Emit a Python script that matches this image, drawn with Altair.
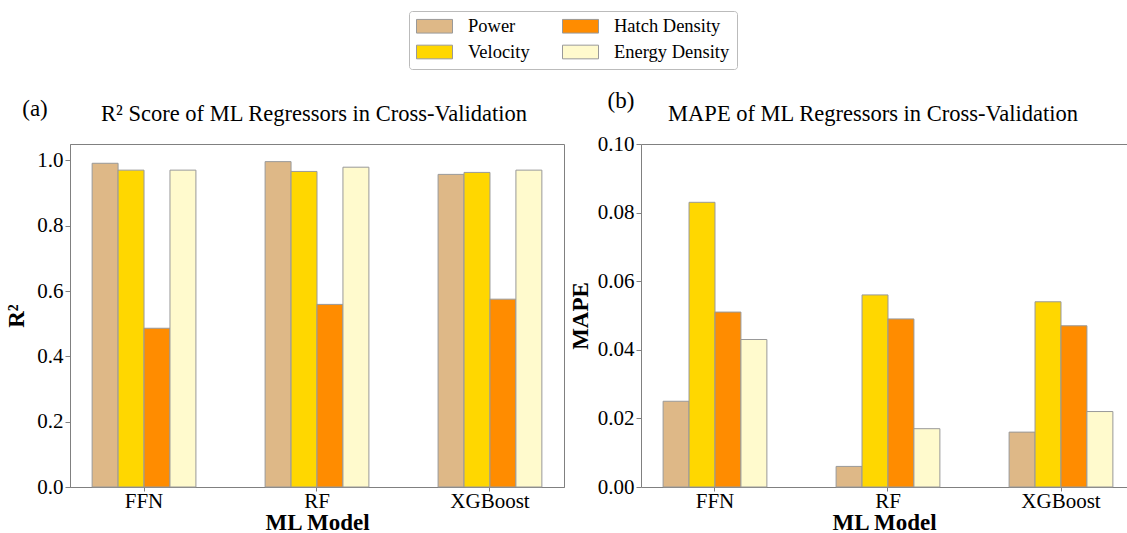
import altair as alt
import pandas as pd

# ML models and input features
models = ["FFN", "RF", "XGBoost"]
features = ["Power", "Velocity", "Hatch Density", "Energy Density"]
feature_colors = ["#DEB887", "#FFD700", "#FF8C00", "#FFFACD"]

# R² score per feature (one value per model)
r2_power = [0.991, 0.996, 0.957]
r2_velocity = [0.970, 0.966, 0.963]
r2_hatch = [0.486, 0.559, 0.575]
r2_energy = [0.970, 0.979, 0.970]

# MAPE per feature (one value per model)
mape_power = [0.025, 0.006, 0.016]
mape_velocity = [0.083, 0.056, 0.054]
mape_hatch = [0.051, 0.049, 0.047]
mape_energy = [0.043, 0.017, 0.022]

r2_ticks = [0.0, 0.2, 0.4, 0.6, 0.8, 1.0]
mape_ticks = [0.00, 0.02, 0.04, 0.06, 0.08, 0.10]


def long_table(series):
    rows = []
    for feat, vals in zip(features, series):
        for m, v in zip(models, vals):
            rows.append({"model": m, "feature": feat, "value": v})
    return pd.DataFrame(rows)


r2_df = long_table([r2_power, r2_velocity, r2_hatch, r2_energy])
mape_df = long_table([mape_power, mape_velocity, mape_hatch, mape_energy])

FONT = "Liberation Serif"
GRAY = "#808080"
W, H = 494, 343
W_RIGHT = 486  # right panel runs to the page edge, its right spine falls outside

color_enc = alt.Color(
    "feature:N",
    scale=alt.Scale(domain=features, range=feature_colors),
    legend=alt.Legend(
        title=None,
        orient="none",
        legendX=339,
        legendY=-133,
        columns=2,
        columnPadding=32,
        rowPadding=7,
        padding=7,
        clipHeight=16,
        symbolType="M-1,-0.38L1,-0.38L1,0.38L-1,0.38Z",
        symbolSize=1296,
        symbolStrokeColor="#999999",
        symbolStrokeWidth=1,
        symbolOpacity=1,
        labelFont=FONT,
        labelFontSize=18.5,
        labelColor="black",
        labelOffset=15,
        fillColor="white",
        strokeColor="#bbbbbb",
        cornerRadius=3,
    ),
)


def text_layer(label, size, x, y):
    return (
        alt.Chart(pd.DataFrame({"t": [label]}))
        .mark_text(font=FONT, fontSize=size, color="black", align="center",
                   baseline="alphabetic")
        .encode(text="t:N", x=alt.value(x), y=alt.value(y))
    )


def panel(df, ticks, fmt, ymax, ytitle, ypad, title, title_x, tag, tag_x, tag_y,
          width, xscale, open_right=False):
    bars = (
        alt.Chart(df)
        .mark_bar(stroke="#999999", strokeWidth=1)
        .encode(
            x=alt.X(
                "model:N",
                sort=models,
                scale=xscale,
                axis=alt.Axis(title="ML Model", labelAngle=0),
            ),
            xOffset=alt.XOffset(
                "feature:N",
                sort=features,
                scale=alt.Scale(paddingInner=0, paddingOuter=0),
            ),
            y=alt.Y(
                "value:Q",
                scale=alt.Scale(domain=[0, ymax], nice=False, zero=True),
                axis=alt.Axis(title=ytitle, values=ticks, format=fmt,
                              titlePadding=ypad),
            ),
            color=color_enc,
        )
    )
    layers = [bars, text_layer(title, 22.5, title_x, -23), text_layer(tag, 23, tag_x, tag_y)]
    if open_right:
        # top spine only (no right spine) for the panel cut by the page edge
        top_spine = (
            alt.Chart(df)
            .mark_point(opacity=0)
            .encode(
                x=alt.X(
                    "model:N",
                    sort=models,
                    scale=xscale,
                    axis=alt.Axis(orient="top", labels=False, ticks=False,
                                  title=None, domainColor=GRAY),
                )
            )
        )
        layers.append(top_spine)
        return (
            alt.layer(*layers, view=alt.ViewBackground(stroke=None))
            .resolve_axis(x="independent")
            .properties(width=width, height=H)
        )
    return alt.layer(*layers).properties(width=width, height=H)


left_scale = alt.Scale(paddingInner=0.4, paddingOuter=0.128)
# same band step as the left panel, with the outer padding placed to the left
right_scale = alt.Scale(paddingInner=0.4, paddingOuter=0.1046, align=0.6105)

left = panel(r2_df, r2_ticks, ".1f", 1.05, "R²", 8,
             "R² Score of ML Regressors in Cross-Validation", 244, "(a)", -35, -28,
             W, left_scale)
right = panel(mape_df, mape_ticks, ".2f", 0.10, "MAPE", 5,
              "MAPE of ML Regressors in Cross-Validation", 232, "(b)", -20, -36,
              W_RIGHT, right_scale, open_right=True)

chart = (
    alt.hconcat(left, right, spacing=77, bounds="flush")
    .properties(padding={"left": 5, "top": 10, "right": 0, "bottom": 0})
    .configure_view(stroke=GRAY, strokeWidth=1)
    .configure_axis(
        grid=False,
        domainColor=GRAY,
        tickColor=GRAY,
        tickSize=5,
        labelFont=FONT,
        labelFontSize=21,
        labelColor="black",
        labelPadding=2,
        titleFont=FONT,
        titleFontSize=23,
        titleFontWeight="bold",
        titleColor="black",
    )
    .configure_axisX(tickSize=4, labelPadding=-1, titlePadding=0)
)

chart.save("out.html", embed_options={"renderer": "svg", "actions": False})
